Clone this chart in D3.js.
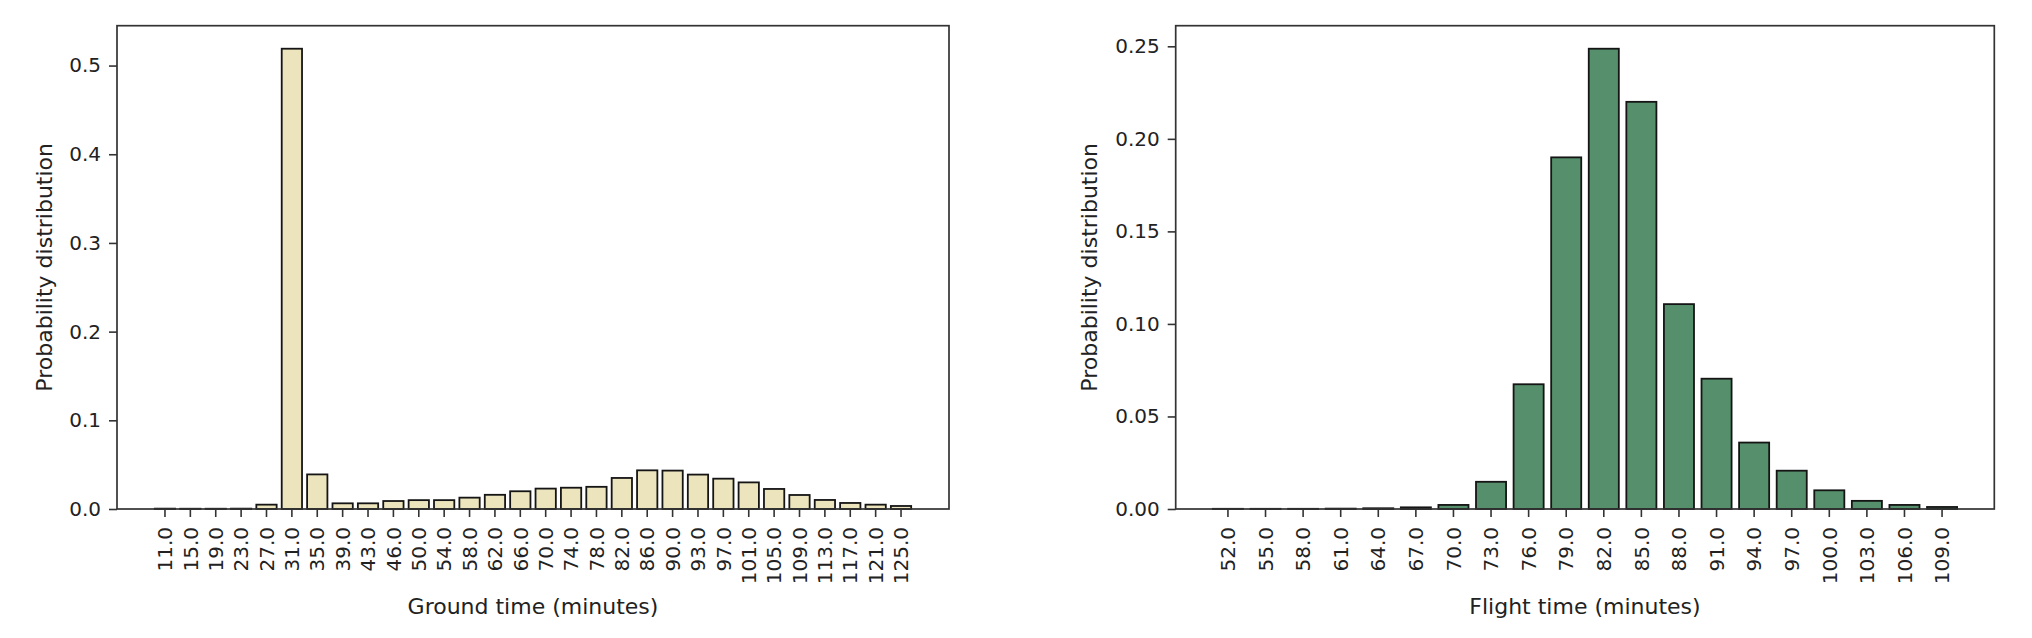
<!DOCTYPE html>
<html>
<head>
<meta charset="utf-8">
<script src="https://cdn.jsdelivr.net/npm/d3@7"></script>
<style>
  body { margin: 0; background: #fff; }
  text { font-family: "DejaVu Sans", sans-serif; fill: #222; }
</style>
</head>
<body>
<script>
// ground time distribution
var groundTimes = [11, 15, 19, 23, 27, 31, 35, 39, 43, 46, 50, 54, 58, 62, 66,
                   70, 74, 78, 82, 86, 90, 93, 97, 101, 105, 109, 113, 117, 121, 125];
var groundProb = [0.0004, 0.0003, 0.0003, 0.0004, 0.0049, 0.519, 0.039, 0.0064, 0.0064, 0.009,
                  0.010, 0.010, 0.0128, 0.016, 0.020, 0.023, 0.024, 0.025, 0.035, 0.0436,
                  0.0433, 0.0388, 0.0342, 0.030, 0.0226, 0.0158, 0.0102, 0.0068, 0.0049, 0.0034];
var groundTicks = [0.0, 0.1, 0.2, 0.3, 0.4, 0.5];

// flight time distribution
var flightTimes = [52, 55, 58, 61, 64, 67, 70, 73, 76, 79, 82, 85, 88, 91, 94, 97, 100, 103, 106, 109];
var flightProb = [0.0001, 0.0001, 0.0001, 0.0002, 0.0004, 0.0009, 0.0022, 0.0147, 0.0674, 0.190,
                  0.2487, 0.220, 0.1107, 0.0704, 0.0359, 0.0207, 0.0101, 0.0044, 0.0022, 0.0011];
var flightTicks = [0.00, 0.05, 0.10, 0.15, 0.20, 0.25];

var W = 2032, H = 638;
var svg = d3.select("body").append("svg")
    .attr("width", W)
    .attr("height", H);

function drawPanel(opts) {
    var left = opts.left, right = opts.right, top = 25.7, bottom = 509;
    var n = opts.cats.length;

    // matplotlib style: bar width 0.8, 5% margins on x, top margin 5%
    var x = d3.scaleBand()
        .domain(opts.cats)
        .range([left, right])
        .paddingInner(0.2)
        .paddingOuter(0.05 * (n - 0.2));
    var y = d3.scaleLinear()
        .domain([0, d3.max(opts.values) * 1.05])
        .range([bottom, top]);

    var g = svg.append("g");

    // bars
    g.selectAll("rect.bar")
        .data(opts.values)
        .enter().append("rect")
        .attr("class", "bar")
        .attr("x", function(d, i) { return x(opts.cats[i]); })
        .attr("width", x.bandwidth())
        .attr("y", function(d) { return y(d); })
        .attr("height", function(d) { return bottom - y(d); })
        .attr("fill", opts.color)
        .attr("stroke", "#151515")
        .attr("stroke-width", 1.8);

    // x axis
    var xa = g.append("g")
        .attr("transform", "translate(0," + bottom + ")")
        .call(d3.axisBottom(x).tickSize(8).tickFormat(d3.format(".1f")));
    xa.select(".domain").remove();
    xa.selectAll("line").attr("stroke", "#333").attr("stroke-width", 1.6);
    xa.selectAll("text")
        .attr("transform", "rotate(-90)")
        .attr("text-anchor", "end")
        .attr("x", -18)
        .attr("y", 0)
        .attr("dy", "0.36em")
        .style("font-size", "20px")
        .style("font-family", "DejaVu Sans")
        .attr("fill", "#222");

    // y axis
    var ya = g.append("g")
        .attr("transform", "translate(" + left + ",0)")
        .call(d3.axisLeft(y).tickValues(opts.ticks).tickSize(8).tickPadding(8)
            .tickFormat(d3.format(opts.fmt)));
    ya.select(".domain").remove();
    ya.selectAll("line").attr("stroke", "#333").attr("stroke-width", 1.6);
    ya.selectAll("text")
        .style("font-size", "20px")
        .style("font-family", "DejaVu Sans")
        .attr("fill", "#222");

    // frame
    g.append("rect")
        .attr("x", left)
        .attr("y", top)
        .attr("width", right - left)
        .attr("height", bottom - top)
        .attr("fill", "none")
        .attr("stroke", "#333")
        .attr("stroke-width", 1.7);

    // axis labels
    g.append("text")
        .attr("x", (left + right) / 2)
        .attr("y", 614)
        .attr("text-anchor", "middle")
        .style("font-size", "22px")
        .text(opts.xlabel);
    g.append("text")
        .attr("transform", "translate(" + opts.ylabelX + "," + ((top + bottom) / 2) + ") rotate(-90)")
        .attr("text-anchor", "middle")
        .attr("dy", "0.35em")
        .style("font-size", "22px")
        .text("Probability distribution");
}

drawPanel({
    cats: groundTimes, values: groundProb, ticks: groundTicks, fmt: ".1f",
    color: "#ece4bd", left: 117, right: 949, ylabelX: 44.5,
    xlabel: "Ground time (minutes)"
});
drawPanel({
    cats: flightTimes, values: flightProb, ticks: flightTicks, fmt: ".2f",
    color: "#558f6b", left: 1175.7, right: 1994.3, ylabelX: 1089.7,
    xlabel: "Flight time (minutes)"
});
</script>
</body>
</html>
